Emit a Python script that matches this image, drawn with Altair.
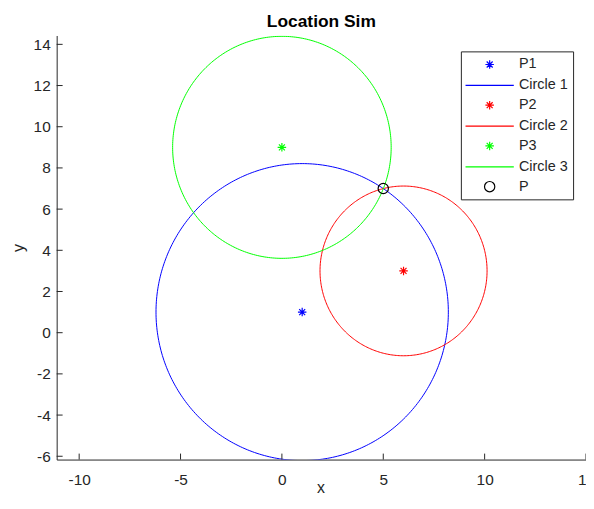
import numpy as np
import pandas as pd
import altair as alt

# ---- data ----
point_names = ["P1", "P2", "P3", "P"]
point_x = [1, 6, 0, 5]
point_y = [1, 3, 9, 7]

circle_names = ["Circle 1", "Circle 2", "Circle 3"]
circle_cx = [1, 6, 0]
circle_cy = [1, 3, 9]
circle_r = [7.21, 4.12, 5.39]

legend_order = ["P1", "Circle 1", "P2", "Circle 2", "P3", "Circle 3", "P"]
xticks = [-10, -5, 0, 5, 10, 15]
yticks = [-6, -4, -2, 0, 2, 4, 6, 8, 10, 12, 14]

# ---- styles ----
BLUE, RED, GREEN, BLACK = "#0000ff", "#ff0000", "#00ff00", "#000000"
color_range = [BLUE, BLUE, RED, RED, GREEN, GREEN, BLACK]
circle_colors = [BLUE, RED, GREEN]
STAR = "M0,-0.57L0,0.57M-0.57,0L0.57,0M-0.4,-0.4L0.4,0.4M-0.4,0.4L0.4,-0.4"
LINE = "M-3.24,0L3.24,0"
CIRC = "M-0.69,0A0.69,0.69,0,1,0,0.69,0A0.69,0.69,0,1,0,-0.69,0Z"
shape_range = [STAR, LINE, STAR, LINE, STAR, LINE, CIRC]
AX = "#262626"
FONT = "Liberation Sans"
W, H = 533, 427

# ---- tables ----
rows = []
theta = np.linspace(0, 2 * np.pi, 361)
for name, cx, cy, r in zip(circle_names, circle_cx, circle_cy, circle_r):
    for i, t in enumerate(theta):
        rows.append({"series": name, "i": i, "x": cx + r * np.cos(t), "y": cy + r * np.sin(t)})
circle_df = pd.DataFrame(rows)
marks_df = pd.DataFrame({
    "series": point_names + circle_names,
    "x": point_x + circle_cx,
    "y": point_y + circle_cy,
})
xt_df = pd.DataFrame({"x": xticks})
yt_df = pd.DataFrame({"y": yticks})

xscale = alt.Scale(domain=[-11.11, 15], nice=False, zero=False)
yscale = alt.Scale(domain=[-6.16, 14.43], nice=False, zero=False)
LBL = "'' + datum.value"
xaxis = alt.Axis(values=xticks, title="x", labelPadding=13, labelExpr=LBL,
                 titleX=265.7, titleY=33, titleBaseline="alphabetic", titleAlign="center")
yaxis = alt.Axis(values=yticks, title="y", labelPadding=6.5, labelExpr=LBL,
                 titleX=-33, titleY=H / 2, titleBaseline="alphabetic",
                 titleAlign="center", titleAngle=270)

def X():
    return alt.X("x:Q", scale=xscale, axis=xaxis)

def Y():
    return alt.Y("y:Q", scale=yscale, axis=yaxis)

cscale = alt.Scale(domain=legend_order, range=color_range)
sscale = alt.Scale(domain=legend_order, range=shape_range)

leg = alt.Legend(title=None, orient="none", legendX=407, legendY=16,
                 symbolSize=225, symbolStrokeWidth=1.2, symbolOffset=15.8,
                 labelOffset=21, rowPadding=5, padding=4.7,
                 labelFont=FONT, labelFontSize=14.5, labelColor=AX,
                 strokeColor=AX, fillColor="white")

circle_layers = [
    alt.Chart(circle_df).transform_filter(alt.datum.series == name)
    .mark_line(strokeWidth=1, clip=True, color=col)
    .encode(x=X(), y=Y(), order="i:Q")
    for name, col in zip(circle_names, circle_colors)
]

xt = alt.Chart(xt_df).mark_rule(color=AX, strokeWidth=1).encode(
    x=X(), y=alt.value(H), y2=alt.value(H - 6)
)
yt = alt.Chart(yt_df).mark_rule(color=AX, strokeWidth=1).encode(
    y=Y(), x=alt.value(0), x2=alt.value(6)
)

points = alt.Chart(marks_df).mark_point(filled=False, size=225, strokeWidth=1.2).encode(
    x=X(), y=Y(),
    color=alt.Color("series:N", scale=cscale, legend=leg),
    shape=alt.Shape("series:N", scale=sscale, legend=leg),
    opacity=alt.condition(alt.FieldOneOfPredicate(field="series", oneOf=circle_names),
                          alt.value(0), alt.value(1)),
)

chart = alt.layer(*circle_layers, xt, yt, points).properties(
    width=W, height=H,
    title=alt.TitleParams("Location Sim", font=FONT, fontSize=17.5, fontWeight="bold",
                          color=BLACK, anchor="middle", frame="group", offset=5),
    padding={"left": 49, "top": 26, "right": 0, "bottom": 34},
    autosize=alt.AutoSizeParams(type="none"),
    background="white",
).configure_axis(
    grid=False, ticks=False, tickSize=0,
    domainColor=AX, domainWidth=1,
    labelFont=FONT, labelFontSize=15.5, labelColor=AX,
    labelFlush=False, labelOverlap=False, labelBound=False,
    titleFont=FONT, titleFontSize=16, titleFontWeight="normal", titleColor=AX,
).configure_view(stroke=None)

chart.save("out.html", embed_options={"renderer": "svg", "actions": False})
